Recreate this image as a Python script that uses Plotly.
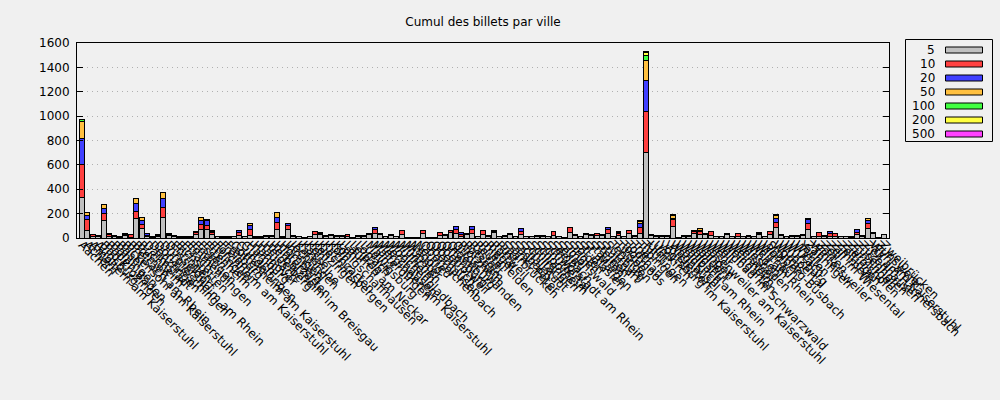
import plotly.graph_objects as go

title = "Cumul des billets par ville"

cities = [
    "Aachen", "Achern", "Amoltern am Kaiserstuhl", "Augsburg", "Bad Krozingen",
    "Baden-Baden", "Bahlingen", "Basel", "Bickensohl am Kaiserstuhl", "Breisach am Rhein",
    "Bremen", "Buchheim", "Darmstadt", "Denzlingen", "Donaueschingen",
    "Durmersheim am Rhein", "Düsseldorf", "Ebringen", "Eichstetten", "Elzach",
    "Emmendingen", "Endingen", "Essen", "Ettenheim", "Ettlingen",
    "Forchheim am Kaiserstuhl", "Freiamt", "Freiburg", "Gottenheim am Kaiserstuhl", "Gundelfingen",
    "Gutach", "Hamburg", "Hannover", "Hausach", "Heidelberg",
    "Herbolzheim im Breisgau", "Hinterzarten", "Hornberg", "Ihringen", "Jechtingen",
    "Karlsruhe", "Kassel", "Kehl", "Kenzingen", "Kiechlinsbergen",
    "Kirchzarten", "Köln", "Königschaffhausen", "Lahr", "Lauffen am Neckar",
    "Leipzig", "Lörrach", "Ludwigsburg", "Mainz", "Malterdingen",
    "Merdingen am Kaiserstuhl", "Merzhausen", "Mönchengladbach", "Müllheim", "München",
    "Münster", "Nagold", "Neuried", "Oberreichenbach", "Oberhausen",
    "Oberkirch", "Oberrotweil", "Offenburg", "Oldenburg", "Ottoschwanden",
    "Pforzheim", "Potsdam", "Rastatt", "Reute", "Rheinfelden",
    "Riegel", "Rottweil", "Rust", "Saarbrücken", "Sankt Peter",
    "Sasbach", "Schallstadt", "Schiltach", "Schliengen", "Schopfheim",
    "Schuttertal", "Schwörstadt am Rhein", "Seelbach", "Sexau", "Simonswald",
    "Singen", "Sölden", "St. Blasien", "St. Märgen", "Staufen",
    "Steinen", "Stuttgart", "Sulzburg", "Teningen", "Titisee",
    "Todtmoos", "Todtnau", "Trier", "Tübingen", "Tuttlingen",
    "Ulm", "Umkirch", "Vogtsburg im Kaiserstuhl", "Vörstetten", "Waghäusel",
    "Waldkirch", "Wallbach am Rhein", "Waldshut", "Walldorf", "Wangen",
    "Wasenweiler am Kaiserstuhl", "Wehr", "Weil", "Wildbad im Schwarzwald", "Weingarten",
    "Weinheim", "Weisweil", "Wiesbaden", "Winden", "Weil am Rhein",
    "Wittnau", "Wolfach", "Stolberg-Büsbach", "Worms", "Wuppertal",
    "Würzburg", "Wutach", "Wyhlen", "Yach", "Zähringen",
    "Wintersweiler", "Zarten", "Zell", "Zell im Wiesental", "Zimmern",
    "Zeltingen", "Zierolshofen", "Zunzingen", "Zusenhofen", "Zuzenhausen",
    "Zell am Harmersbach", "Wyhl am Kaiserstuhl", "Zunsweier", "Zweibrücken",
]

denominations = ["5", "10", "20", "50", "100", "200", "500"]
colors = ["#c0c0c0", "#ff4040", "#4040ff", "#ffc040", "#40ff40", "#ffff40", "#ff40ff"]

v5 = [330, 63, 15, 12, 145, 10, 12, 8, 20, 8,
      160, 77, 10, 8, 12, 167, 20, 12, 8, 8,
      6, 30, 71, 71, 28, 10, 8, 8, 10, 20,
      10, 22, 8, 6, 12, 12, 71, 8, 71, 14,
      10, 4, 10, 25, 30, 14, 18, 14, 14, 10,
      4, 14, 14, 28, 40, 28, 10, 20, 10, 25,
      4, 4, 4, 40, 4, 4, 20, 18, 45, 35,
      10, 30, 40, 10, 25, 14, 45, 10, 14, 28,
      10, 30, 10, 10, 14, 14, 10, 20, 10, 4,
      45, 18, 10, 28, 18, 18, 18, 40, 10, 20,
      10, 40, 14, 38, 700, 18, 14, 14, 14, 93,
      4, 14, 14, 40, 25, 28, 20, 10, 10, 30,
      10, 15, 10, 14, 10, 30, 10, 30, 85, 18,
      10, 14, 14, 18, 70, 10, 16, 14, 14, 15,
      10, 10, 6, 25, 14, 74, 35, 4, 25]

v10 = [270, 88, 10, 6, 55, 20, 5, 4, 10, 18,
       60, 33, 8, 4, 10, 87, 12, 8, 4, 4,
       4, 12, 36, 33, 20, 5, 4, 4, 5, 22,
       5, 45, 4, 4, 8, 8, 60, 4, 29, 8,
       4, 1, 4, 25, 6, 8, 12, 8, 8, 20,
       1, 8, 8, 10, 27, 10, 4, 10, 4, 35,
       1, 1, 1, 23, 1, 1, 29, 12, 18, 33,
       20, 8, 33, 4, 38, 8, 8, 4, 8, 10,
       4, 27, 4, 4, 8, 8, 4, 30, 4, 1,
       40, 12, 4, 10, 12, 20, 12, 27, 4, 18,
       4, 23, 10, 50, 340, 12, 8, 8, 8, 55,
       1, 8, 8, 15, 25, 10, 30, 4, 4, 10,
       4, 23, 4, 8, 4, 5, 4, 20, 46, 12,
       4, 8, 8, 12, 45, 4, 30, 8, 25, 23,
       4, 4, 8, 20, 8, 41, 11, 1, 5]

v20 = [215, 35, 0, 0, 41, 6, 0, 0, 6, 2,
       60, 35, 20, 0, 3, 69, 3, 0, 0, 0,
       0, 8, 38, 40, 3, 0, 0, 0, 0, 18,
       0, 33, 0, 0, 0, 0, 41, 0, 18, 0,
       0, 0, 0, 4, 10, 0, 0, 0, 0, 0,
       0, 0, 0, 0, 20, 0, 0, 0, 0, 3,
       0, 0, 0, 0, 0, 0, 0, 0, 0, 25,
       16, 0, 20, 0, 0, 0, 10, 0, 0, 0,
       0, 20, 0, 0, 0, 0, 0, 4, 0, 0,
       2, 0, 0, 0, 0, 0, 0, 20, 0, 4,
       0, 0, 0, 33, 250, 0, 0, 0, 0, 8,
       0, 0, 0, 5, 10, 0, 0, 0, 0, 0,
       0, 0, 0, 0, 0, 11, 0, 4, 28, 0,
       0, 0, 0, 0, 35, 0, 0, 0, 15, 0,
       0, 0, 0, 24, 0, 27, 0, 0, 0]

v50 = [140, 25, 0, 0, 38, 0, 0, 0, 0, 0,
       48, 25, 2, 0, 0, 52, 0, 0, 0, 0,
       0, 0, 22, 6, 12, 0, 0, 0, 0, 3,
       0, 18, 0, 0, 0, 0, 38, 0, 0, 0,
       0, 0, 0, 0, 0, 0, 0, 0, 0, 0,
       0, 0, 0, 0, 0, 0, 0, 0, 0, 0,
       0, 0, 0, 0, 0, 0, 0, 0, 0, 0,
       0, 0, 0, 0, 0, 0, 0, 0, 0, 0,
       0, 0, 0, 0, 0, 0, 0, 0, 0, 0,
       0, 0, 0, 0, 0, 0, 0, 0, 0, 12,
       0, 0, 0, 16, 167, 0, 0, 0, 0, 32,
       0, 0, 0, 0, 15, 0, 0, 0, 0, 0,
       0, 0, 0, 0, 0, 0, 0, 0, 27, 0,
       0, 0, 0, 0, 11, 0, 0, 0, 0, 0,
       0, 0, 0, 0, 0, 19, 0, 0, 0]

v100 = [15, 0, 0, 0, 0, 0, 0, 0, 0, 0,
        0, 0, 0, 0, 0, 0, 0, 0, 0, 0,
        0, 0, 0, 0, 0, 0, 0, 0, 0, 0,
        0, 0, 0, 0, 0, 0, 3, 0, 0, 0,
        0, 0, 0, 0, 0, 0, 0, 0, 0, 0,
        0, 0, 0, 0, 0, 0, 0, 0, 0, 0,
        0, 0, 0, 0, 0, 0, 0, 0, 0, 0,
        0, 0, 0, 0, 0, 0, 0, 0, 0, 0,
        0, 0, 0, 0, 0, 0, 0, 0, 0, 0,
        0, 0, 0, 0, 0, 0, 0, 0, 0, 0,
        0, 0, 0, 3, 38, 0, 0, 0, 0, 3,
        0, 0, 0, 0, 0, 0, 0, 0, 0, 0,
        0, 0, 0, 0, 0, 0, 0, 0, 8, 0,
        0, 0, 0, 0, 0, 0, 0, 0, 0, 0,
        0, 0, 0, 0, 0, 0, 0, 0, 0]

v200 = [0] * 104 + [30] + [0] * 44
v500 = [0] * 104 + [6] + [0] * 44

series = [v5, v10, v20, v50, v100, v200, v500]

# plot-area geometry (pixels in the 1000x400 page)
L, R, T, B = 77, 889, 43, 238


def px(x):
    return (x - L) / (R - L)


def py(y):
    return (B - y) / (B - T)


font = "DejaVu Sans"
xs = list(range(len(cities)))

fig = go.Figure()
for name, col, vals in zip(denominations, colors, series):
    fig.add_trace(go.Bar(
        x=xs, y=[v if v else None for v in vals], name=name,
        marker=dict(color=col, line=dict(color="black", width=1)),
        showlegend=False,
    ))

shapes = []
annotations = []
# custom legend box (label left of swatch, like the reference)
shapes.append(dict(type="rect", xref="paper", yref="paper",
                   x0=px(905.5), x1=px(992.5), y0=py(141.5), y1=py(39.5),
                   line=dict(color="black", width=1), fillcolor="#f0f0f0", layer="above"))
for k, (name, col) in enumerate(zip(denominations, colors)):
    yc = 50 + 14 * k
    annotations.append(dict(xref="paper", yref="paper", x=px(937), y=py(yc),
                            xanchor="right", yanchor="middle", text=name, showarrow=False,
                            font=dict(family=font, size=12, color="black")))
    shapes.append(dict(type="rect", xref="paper", yref="paper",
                       x0=px(945.5), x1=px(982.5), y0=py(yc + 3), y1=py(yc - 3),
                       fillcolor=col, line=dict(color="black", width=1), layer="above"))

fig.update_layout(
    width=1000, height=400,
    margin=dict(l=L, r=1000 - R, t=T, b=400 - B, pad=0),
    paper_bgcolor="#f0f0f0", plot_bgcolor="#f0f0f0",
    barmode="stack", bargap=0.1,
    font=dict(family=font, size=12, color="black"),
    title=dict(text=title, x=0.5, xref="paper", xanchor="center",
               y=1 - 22 / 400, yanchor="middle", font=dict(family=font, size=12, color="black")),
    shapes=shapes, annotations=annotations,
)
fig.update_xaxes(
    range=[-0.92, len(cities) - 1 + 0.92],
    tickmode="array", tickvals=xs, ticktext=cities, tickangle=45,
    ticks="", showgrid=False, zeroline=False,
    showline=True, linecolor="black", linewidth=1, mirror=True,
    tickfont=dict(family=font, size=12, color="black"),
    ticklabelstandoff=-6,
    automargin=False,
)
fig.update_yaxes(
    range=[0, 1600], dtick=200, tick0=0,
    ticks="inside", ticklen=6, tickcolor="black", tickwidth=1,
    showline=True, linecolor="black", linewidth=1, mirror="allticks",
    showgrid=True, gridcolor="#b0b0b0", gridwidth=1, griddash="1px,4px",
    zeroline=False, ticklabelstandoff=4,
    tickfont=dict(family=font, size=12, color="black"),
    automargin=False,
)

fig.write_html("out.html", config={"displayModeBar": False},
               post_script="document.body.style.margin='0';document.body.style.background='#f0f0f0';")
